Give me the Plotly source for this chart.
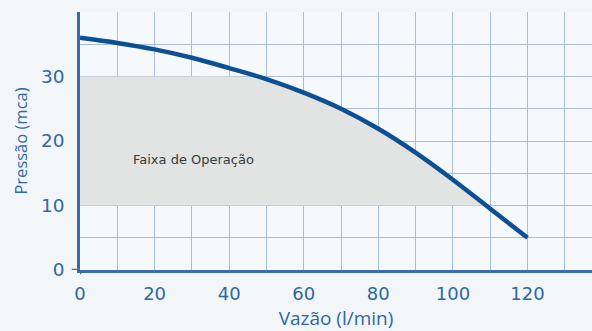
import plotly.graph_objects as go
import numpy as np

# Pump curve (flow l/min -> pressure mca)
vazao = [0, 10, 20, 30, 40, 50, 60, 70, 80, 90, 100, 110, 120]
pressao = [36.0, 35.2, 34.2, 32.9, 31.3, 29.6, 27.5, 25.0, 21.9, 18.2, 14.0, 9.5, 5.0]

# Operating band
faixa_min = 10
faixa_max = 30

x_ticks = [0, 20, 40, 60, 80, 100, 120]
y_ticks = [0, 10, 20, 30]

line_color = '#0d4f93'
axis_color = '#3a6da7'
grid_color = '#a9bdd5'
text_color = '#2f67a6'

fig = go.Figure()

# Operating band fill (between faixa_min and the curve, capped at faixa_max)
vx = np.array(vazao)
vy = np.array(pressao)
mask = vy >= faixa_min - 1
band_x = vx[mask]
band_top = np.minimum(vy[mask], faixa_max)

fig.add_trace(go.Scatter(
    x=band_x, y=[faixa_min] * len(band_x),
    mode='lines', line=dict(width=0),
    showlegend=False, hoverinfo='skip'
))
fig.add_trace(go.Scatter(
    x=band_x, y=band_top,
    mode='lines', line=dict(width=0, shape='spline'),
    fill='tonexty', fillcolor='#e2e3e3',
    showlegend=False, hoverinfo='skip'
))

# Pump curve
fig.add_trace(go.Scatter(
    x=vazao, y=pressao,
    mode='lines',
    line=dict(color=line_color, width=4.5, shape='spline'),
    showlegend=False
))

fig.add_annotation(
    x=13.7, y=17.2, xanchor='left', yanchor='middle',
    text='Faixa de Operação', showarrow=False,
    font=dict(family='DejaVu Sans', size=13, color='#3a3a3a')
)

fig.update_layout(
    width=592, height=331,
    margin=dict(l=80, r=0, t=12, b=61),
    paper_bgcolor='#f2f6f9',
    plot_bgcolor='#f6f9fb',
    font=dict(family='Open Sans', color=text_color),
    showlegend=False
)

fig.update_xaxes(
    range=[0, 137.3],
    automargin=False,
    tickmode='array', tickvals=x_ticks,
    tickfont=dict(family='DejaVu Sans', size=18, color=text_color),
    ticklabelstandoff=6,
    showgrid=True, gridcolor=grid_color, gridwidth=1.3,
    minor=dict(tickmode='array', tickvals=[10, 30, 50, 70, 90, 110, 130],
               showgrid=True, gridcolor=grid_color, gridwidth=1.3),
    showline=True, linecolor=axis_color, linewidth=2.5,
    zeroline=False,
    title=dict(text='Vazão (l/min)', font=dict(size=19, color=text_color), standoff=10)
)

fig.update_yaxes(
    range=[0, 40],
    automargin=False,
    tickmode='array', tickvals=y_ticks,
    tickfont=dict(family='DejaVu Sans', size=18.5, color=text_color),
    ticklabelstandoff=9,
    showgrid=True, gridcolor=grid_color, gridwidth=1.3,
    minor=dict(tickmode='array', tickvals=[5, 15, 25, 35, 40],
               showgrid=True, gridcolor=grid_color, gridwidth=1.3),
    showline=True, linecolor=axis_color, linewidth=2.5,
    zeroline=False,
    title=dict(text='Pressão (mca)', font=dict(size=16.5, color=text_color), standoff=10)
)

# small cross at the origin
fig.add_shape(type='line', xref='x domain', yref='y', x0=-0.016, x1=0, y0=0, y1=0,
              line=dict(color=axis_color, width=2.5))
fig.add_shape(type='line', xref='x', yref='y domain', x0=0, x1=0, y0=-0.016, y1=0,
              line=dict(color=axis_color, width=2.5))

# drop the default body margin so the figure fills the window
fig.write_html("out.html", config={'displayModeBar': False},
               post_script="document.body.style.margin='0';")
